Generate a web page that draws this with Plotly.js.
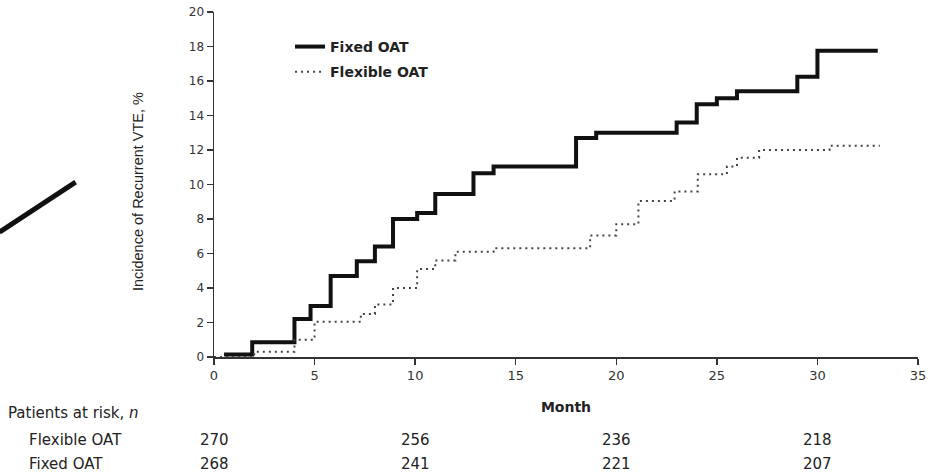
<!DOCTYPE html>
<html>
<head>
<meta charset="utf-8">
<script src="https://cdn.plot.ly/plotly-3.0.1.min.js"></script>
<style>
  html, body { margin: 0; padding: 0; background: #fff; }
  #chart { width: 933px; height: 475px; }
</style>
</head>
<body>
<div id="chart"></div>
<script>
// Fixed OAT cumulative incidence (step function)
const fixedMonths = [0.5, 1.9, 4.0, 4.8, 5.8, 7.1, 8.0, 8.9, 10.1, 11.0, 12.9, 13.9, 18.0, 19.0, 23.0, 24.0, 25.0, 26.0, 29.0, 30.0, 33.0];
const fixedInc    = [0.15, 0.85, 2.2, 2.95, 4.7, 5.55, 6.4, 8.0, 8.35, 9.45, 10.65, 11.05, 12.7, 13.0, 13.6, 14.65, 15.0, 15.4, 16.25, 17.75, 17.75];

// Flexible OAT cumulative incidence (step function)
const flexMonths = [0, 2.0, 4.0, 5.0, 7.3, 8.0, 8.9, 10.1, 11.0, 12.0, 13.9, 18.7, 20.0, 21.1, 22.9, 24.05, 25.5, 26.0, 27.1, 30.6, 33.1];
const flexInc    = [0, 0.3, 1.0, 2.05, 2.5, 3.05, 4.0, 5.1, 5.6, 6.1, 6.3, 7.05, 7.7, 9.05, 9.6, 10.6, 11.05, 11.55, 12.0, 12.25, 12.25];

// Patients at risk table
const riskMonths   = [0, 10, 20, 30];
const riskFlexible = [270, 256, 236, 218];
const riskFixed    = [268, 241, 221, 207];
const riskRowLabels = ["Flexible OAT", "Fixed OAT"];

const xTicks = [0, 5, 10, 15, 20, 25, 30, 35];
const yTicks = [0, 2, 4, 6, 8, 10, 12, 14, 16, 18, 20];

const traces = [
  {
    x: fixedMonths, y: fixedInc, name: "Fixed OAT", type: "scatter", mode: "lines",
    legendgroup: "a",
    line: { shape: "hv", color: "#111111", width: 4 }
  },
  {
    x: flexMonths, y: flexInc, name: "Flexible OAT", type: "scatter", mode: "lines",
    legendgroup: "b",
    line: { shape: "hv", color: "#444444", width: 2, dash: "2px,4px" }
  }
];

const tableFont = { family: "DejaVu Sans, Liberation Sans, sans-serif", size: 15, color: "#222" };
const annotations = [];
annotations.push({
  xref: "paper", yref: "paper", x: -0.107, y: 0.48, xanchor: "center", yanchor: "middle",
  textangle: -90, text: "Incidence of Recurrent VTE, %", showarrow: false,
  font: { family: "Liberation Sans, Arial, sans-serif", size: 14.5, color: "#222" }
});
annotations.push({
  xref: "paper", yref: "paper", x: -0.295, y: -0.163, xanchor: "left", yanchor: "middle",
  text: "Patients at risk, <i>n</i>", showarrow: false, font: tableFont
});
const rowY = [-0.241, -0.311];
const rowVals = [riskFlexible, riskFixed];
riskRowLabels.forEach((lab, r) => {
  annotations.push({
    xref: "paper", yref: "paper", x: -0.265, y: rowY[r], xanchor: "left", yanchor: "middle",
    text: lab, showarrow: false, font: tableFont
  });
  riskMonths.forEach((m, i) => {
    annotations.push({
      xref: "x", yref: "paper", x: m, y: rowY[r], xanchor: "center", yanchor: "middle",
      text: String(rowVals[r][i]), showarrow: false, font: tableFont
    });
  });
});

const layout = {
  width: 933, height: 475,
  margin: { l: 214, r: 15, t: 12, b: 118, pad: 0 },
  paper_bgcolor: "#ffffff", plot_bgcolor: "#ffffff",
  showlegend: true,
  legend: {
    x: 0.108, y: 0.945, xanchor: "left", yanchor: "top",
    bgcolor: "rgba(0,0,0,0)", borderwidth: 0,
    font: { family: "DejaVu Sans, sans-serif", size: 14, color: "#222", weight: "bold" },
    itemwidth: 30, tracegroupgap: 4, traceorder: "grouped"
  },
  xaxis: {
    range: [0, 35], tickvals: xTicks, ticktext: xTicks.map(String),
    showline: true, linecolor: "#333", linewidth: 1.5, mirror: false,
    showgrid: false, zeroline: false,
    ticks: "outside", ticklen: 6, tickwidth: 1.5, tickcolor: "#333",
    tickfont: { family: "DejaVu Sans, sans-serif", size: 13, color: "#333" },
    title: { text: "Month", standoff: 20, font: { family: "DejaVu Sans, sans-serif", size: 14, color: "#222", weight: "bold" } }
  },
  yaxis: {
    range: [0, 20], tickvals: yTicks, ticktext: yTicks.map(String),
    showline: true, linecolor: "#333", linewidth: 1.5, mirror: false,
    showgrid: false, zeroline: false,
    ticks: "outside", ticklen: 6, tickwidth: 1.5, tickcolor: "#333",
    tickfont: { family: "DejaVu Sans, sans-serif", size: 12, color: "#333" }
  },
  annotations: annotations,
  shapes: [
    {
      type: "line", xref: "paper", yref: "paper",
      x0: -0.3047, y0: 0.362, x1: -0.1966, y1: 0.507,
      line: { color: "#111111", width: 5 }
    }
  ]
};

Plotly.newPlot("chart", traces, layout, { staticPlot: true, displayModeBar: false });
</script>
</body>
</html>
